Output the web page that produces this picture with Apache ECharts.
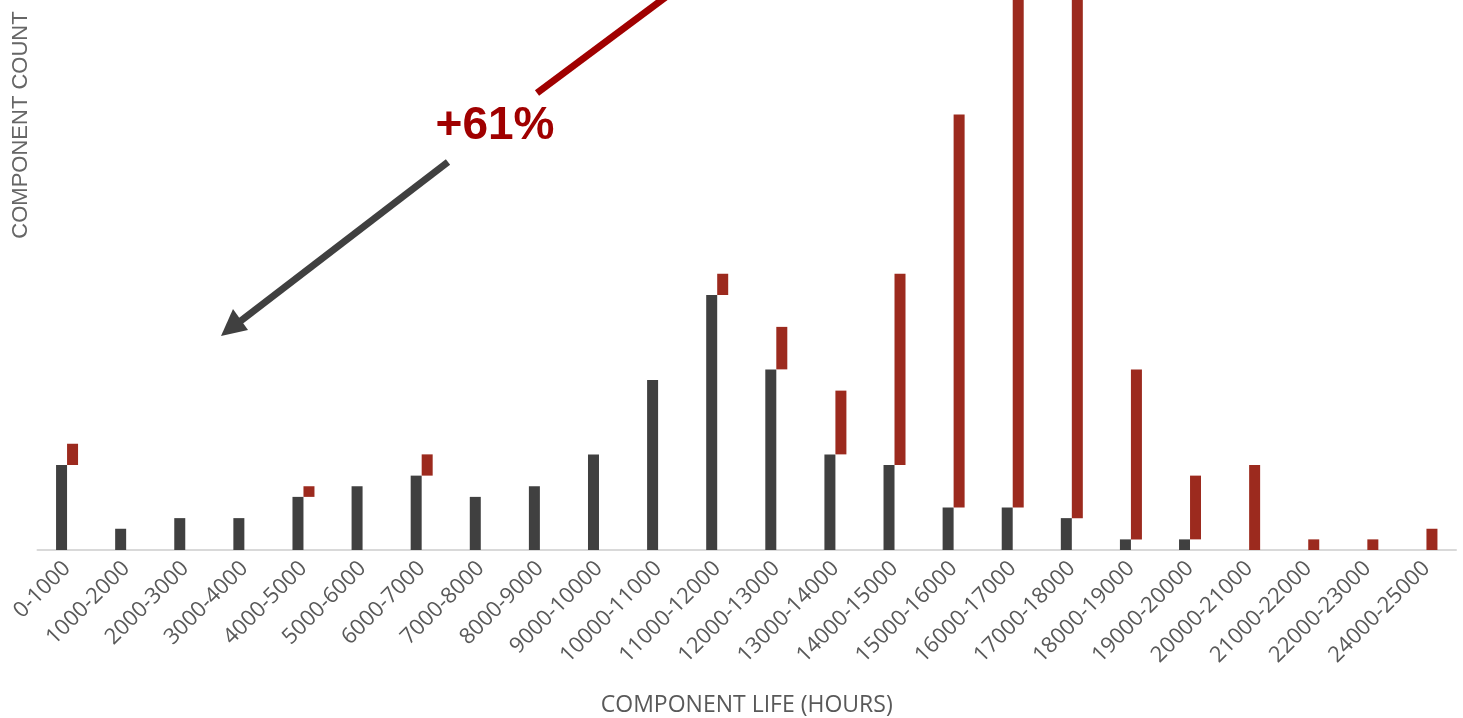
<!DOCTYPE html>
<html>
<head>
<meta charset="utf-8">
<script src="https://cdn.jsdelivr.net/npm/echarts@6/dist/echarts.min.js"></script>
<style>
html,body{margin:0;padding:0;background:#fff;}
#chart{width:1463px;height:718px;}
</style>
</head>
<body>
<div id="chart"></div>
<script>
const categories = ['0-1000','1000-2000','2000-3000','3000-4000','4000-5000','5000-6000','6000-7000','7000-8000','8000-9000','9000-10000','10000-11000','11000-12000','12000-13000','13000-14000','14000-15000','15000-16000','16000-17000','17000-18000','18000-19000','19000-20000','20000-21000','21000-22000','22000-23000','24000-25000'];
const baseCounts = [8,2,3,3,5,6,7,5,6,9,16,24,17,9,8,4,4,3,1,1,0,0,0,0];
const addedCounts = [2,0,0,0,1,0,2,0,0,0,0,2,4,6,18,37,56,57,16,6,8,1,1,2];

const chart = echarts.init(document.getElementById('chart'));
const option = {
  animation: false,
  grid: { left: 37.5, right: 7, top: 0, bottom: 168, outerBoundsMode: 'none', containLabel: false },
  xAxis: {
    type: 'category',
    data: categories,
    axisTick: { show: false },
    axisLine: { lineStyle: { color: '#d9d9d9', width: 2 } },
    axisLabel: { interval: 0, rotate: 45, color: '#595959', fontFamily: 'Open Sans', fontSize: 22, margin: 15 },
    name: 'COMPONENT LIFE (HOURS)',
    nameLocation: 'middle',
    nameGap: 144,
    nameTextStyle: { color: '#595959', fontFamily: 'Open Sans', fontSize: 23 }
  },
  yAxis: {
    type: 'value',
    min: 0,
    max: 51.765,
    axisLine: { show: false },
    axisTick: { show: false },
    axisLabel: { show: false },
    splitLine: { show: false },
    name: 'COMPONENT COUNT',
    nameLocation: 'middle',
    nameGap: 6,
    nameTextStyle: { color: '#666666', fontFamily: 'Liberation Sans', fontSize: 22, padding: [0, 0, 0, 300] }
  },
  series: [
    { type: 'bar', data: baseCounts, barWidth: 11, barGap: '0%', itemStyle: { color: '#404040' } },
    { type: 'bar', data: baseCounts, stack: 'r', barWidth: 11, silent: true, itemStyle: { color: 'rgba(0,0,0,0)' } },
    { type: 'bar', data: addedCounts, stack: 'r', barWidth: 11, itemStyle: { color: '#9c2a1e' } }
  ],
  graphic: [
    { type: 'line', shape: { x1: 537, y1: 93, x2: 800, y2: -103 }, style: { stroke: '#a00000', lineWidth: 7 } },
    { type: 'line', shape: { x1: 448, y1: 162, x2: 238, y2: 323 }, style: { stroke: '#404040', lineWidth: 7 } },
    { type: 'polygon', shape: { points: [[221, 336], [233, 309], [248, 330]] }, style: { fill: '#404040' } },
    { type: 'text', x: 495, y: 126, style: { text: '+61%', fill: '#a00000', font: 'bold 46px "Liberation Sans", Arial, sans-serif', textAlign: 'center', textVerticalAlign: 'middle' } }
  ]
};
chart.setOption(option);
</script>
</body>
</html>
